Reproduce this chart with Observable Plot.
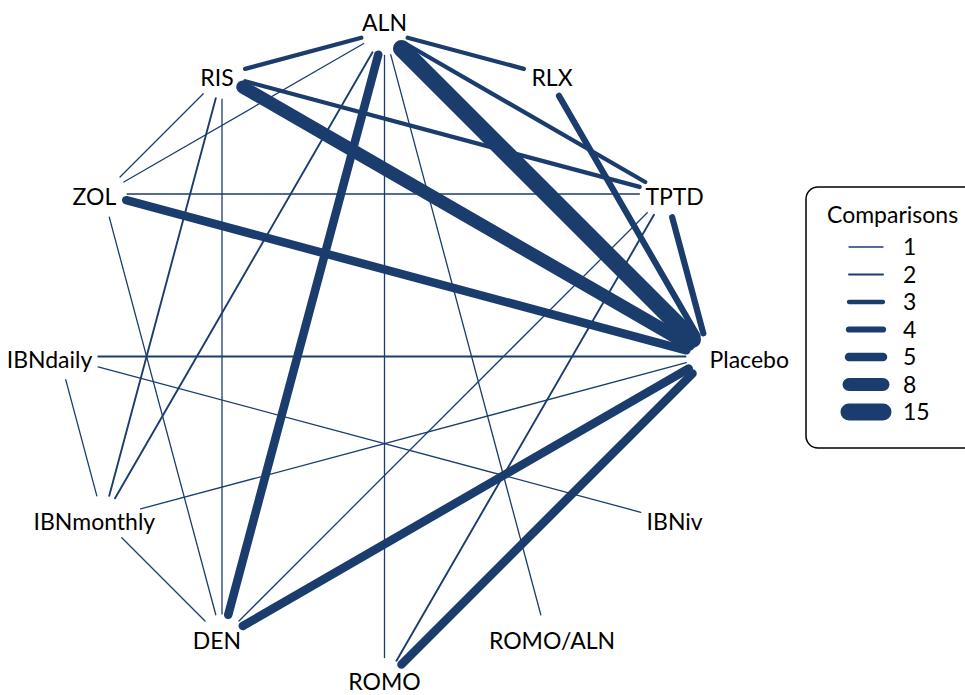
<!DOCTYPE html>
<html><head><meta charset="utf-8">
<script src="https://cdn.jsdelivr.net/npm/d3@7"></script>
<script src="https://cdn.jsdelivr.net/npm/@observablehq/plot@0.6"></script>
<style>
html,body{margin:0;padding:0;background:#fff;overflow:hidden;}
#chart{position:relative;width:965px;height:695px;}
svg{font-family:Lato,"Open Sans",sans-serif;}
</style></head><body><div id="chart"></div>
<script>
// ---- data ----
const treatments = ["ALN","RLX","TPTD","Placebo","IBNiv","ROMO/ALN","ROMO","DEN","IBNmonthly","IBNdaily","ZOL","RIS"];
const edgeFrom  = ["ALN","RIS","ALN","ZOL","DEN","ROMO","RLX","TPTD","ALN","ALN","ALN","RIS","ALN","RIS","IBNdaily","TPTD","ALN","ALN","ALN","RIS","RIS","ZOL","ZOL","TPTD","IBNdaily","IBNdaily","IBNmonthly","IBNmonthly"];
const edgeTo    = ["Placebo","Placebo","DEN","Placebo","Placebo","Placebo","Placebo","Placebo","RIS","RLX","TPTD","TPTD","IBNmonthly","IBNmonthly","Placebo","ROMO","ZOL","ROMO","ROMO/ALN","ZOL","DEN","TPTD","DEN","DEN","IBNiv","IBNmonthly","Placebo","DEN"];
const edgeCount = [15,8,5,5,5,5,4,4,3,3,3,3,2,2,2,2,1,1,1,1,1,1,1,1,1,1,1,1];
const legendValues = [1,2,3,4,5,8,15];
const legendTitle = "Comparisons";
const referenceTreatment = "Placebo";

// ---- styles ----
const color = "#1b3d6e";
const fontSize = 23;
const widthScale = d3.scaleLinear().domain(legendValues).range([1.3,1.9,4.3,6.2,8.5,13,17]);

// ---- layout: nodes evenly spaced on a circle, clockwise from the top ----
const n = treatments.length;
const xRange = [59, 709], yRange = [681, 31];
const pxPerUnit = (xRange[1] - xRange[0]) / 2;
const nodes = treatments.map((name, i) => {
  const a = Math.PI / 2 - i * 2 * Math.PI / n;
  return {name, a, x: Math.cos(a), y: Math.sin(a)};
});
const byName = new Map(nodes.map(d => [d.name, d]));

// label placement + approximate label boxes (for trimming edges)
const ctx = document.createElement("canvas").getContext("2d");
ctx.font = `${fontSize}px Lato`;
const push = 10 / pxPerUnit;
nodes.forEach(d => {
  const w = ctx.measureText(d.name).width / pxPerUnit;
  const h = fontSize * 0.5 / pxPerUnit;
  const s = Math.sin(d.a);
  if (d.name === referenceTreatment) {
    d.group = "start"; d.lx = d.x; d.ly = d.y;
    d.box = [d.x, d.x + w, d.y - h, d.y + h];
  } else if (s > 0.99) {
    d.group = "top"; d.lx = d.x; d.ly = d.y;
    d.box = [d.x - w / 2, d.x + w / 2, d.y, d.y + 2 * h];
  } else {
    d.group = s < -0.99 ? "bottom" : "middle";
    d.lx = d.x + push * Math.cos(d.a); d.ly = d.y;
    d.box = [d.lx - w / 2, d.lx + w / 2, d.ly - h - 3 / pxPerUnit, d.ly + h - 3 / pxPerUnit];
  }
});

function exitDist(p, ux, uy) {
  const [x0, x1, y0, y1] = p.box;
  let tmin = -Infinity, tmax = Infinity;
  for (const [o, u, lo, hi] of [[p.x, ux, x0, x1], [p.y, uy, y0, y1]]) {
    if (Math.abs(u) < 1e-9) { if (o < lo || o > hi) return 0; continue; }
    let t1 = (lo - o) / u, t2 = (hi - o) / u;
    if (t1 > t2) [t1, t2] = [t2, t1];
    tmin = Math.max(tmin, t1); tmax = Math.min(tmax, t2);
  }
  return (tmin <= 0 && tmax >= 0) ? tmax : 0;
}
const baseR = 24 / pxPerUnit, pad = 6 / pxPerUnit;
const edges = edgeFrom.map((f, i) => {
  const A = byName.get(f), B = byName.get(edgeTo[i]);
  const dx = B.x - A.x, dy = B.y - A.y, L = Math.hypot(dx, dy);
  const ux = dx / L, uy = dy / L;
  const ta = Math.max(baseR, exitDist(A, ux, uy) + pad);
  const tb = Math.max(baseR, exitDist(B, -ux, -uy) + pad);
  return {from: f, to: edgeTo[i], count: edgeCount[i],
    x1: A.x + ux * ta, y1: A.y + uy * ta, x2: B.x - ux * tb, y2: B.y - uy * tb};
}).sort((a, b) => b.count - a.count);

const textOpts = {x: "lx", y: "ly", text: "name", fontSize, fill: "#000"};
const plot = Plot.plot({
  width: 965, height: 695,
  margin: 0,
  x: {domain: [-1, 1], range: xRange, axis: null},
  y: {domain: [-1, 1], range: yRange, axis: null},
  style: {fontFamily: "Lato, sans-serif", background: "#fff"},
  marks: [
    Plot.link(edges, {x1: "x1", y1: "y1", x2: "x2", y2: "y2", stroke: color,
      strokeWidth: d => widthScale(d.count), strokeLinecap: "round"}),
    Plot.text(nodes.filter(d => d.group === "middle"), {...textOpts, textAnchor: "middle", dy: 4}),
    Plot.text(nodes.filter(d => d.group === "bottom"), {...textOpts, textAnchor: "middle", dy: 1}),
    Plot.text(nodes.filter(d => d.group === "start"), {...textOpts, textAnchor: "start", dy: 4}),
    Plot.text(nodes.filter(d => d.group === "top"), {...textOpts, textAnchor: "middle", lineAnchor: "bottom", dy: -1})
  ]
});
document.getElementById("chart").appendChild(plot);

// ---- legend ----
const svg = d3.select(plot);
const lg = svg.append("g").attr("transform", "translate(806,187)").attr("text-anchor", "start");
lg.append("rect").attr("x", 0).attr("y", 0).attr("width", 200).attr("height", 261)
  .attr("rx", 12).attr("fill", "#fff").attr("stroke", "#000").attr("stroke-width", 1.5);
lg.append("text").attr("x", 21).attr("y", 28).attr("dy", "0.35em")
  .attr("font-size", fontSize).attr("fill", "#000").text(legendTitle);
legendValues.forEach((v, i) => {
  const yy = 60 + i * 27.5;
  lg.append("line").attr("x1", 43).attr("x2", 77).attr("y1", yy).attr("y2", yy)
    .attr("stroke", color).attr("stroke-width", widthScale(v)).attr("stroke-linecap", "round");
  lg.append("text").attr("x", 97).attr("y", yy).attr("dy", "0.35em")
    .attr("font-size", fontSize).attr("fill", "#000").text(v);
});
</script></body></html>
